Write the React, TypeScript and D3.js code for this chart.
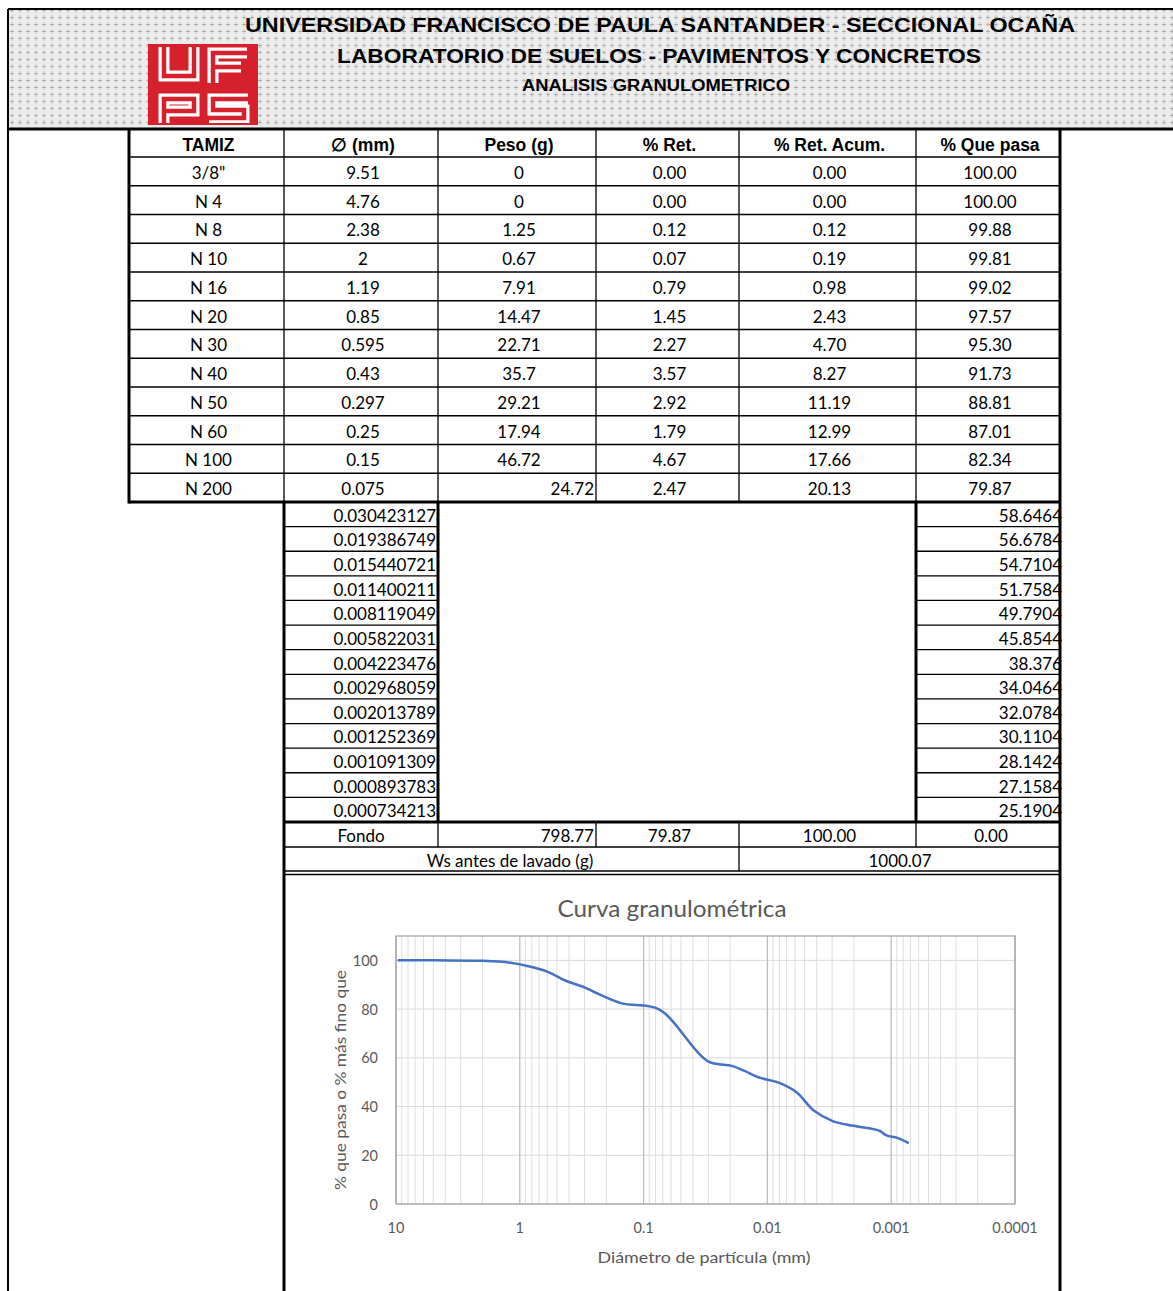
import React from "react";
import * as d3 from "d3";

const tamiz = ['3/8"', "N 4", "N 8", "N 10", "N 16", "N 20", "N 30", "N 40", "N 50", "N 60", "N 100", "N 200"];
const diametro = [9.51, 4.76, 2.38, 2, 1.19, 0.85, 0.595, 0.43, 0.297, 0.25, 0.15, 0.075];
const diametroTxt = ["9.51", "4.76", "2.38", "2", "1.19", "0.85", "0.595", "0.43", "0.297", "0.25", "0.15", "0.075"];
const peso = ["0", "0", "1.25", "0.67", "7.91", "14.47", "22.71", "35.7", "29.21", "17.94", "46.72", "24.72"];
const retenido = ["0.00", "0.00", "0.12", "0.07", "0.79", "1.45", "2.27", "3.57", "2.92", "1.79", "4.67", "2.47"];
const retAcum = ["0.00", "0.00", "0.12", "0.19", "0.98", "2.43", "4.70", "8.27", "11.19", "12.99", "17.66", "20.13"];
const quePasa = [100.0, 100.0, 99.88, 99.81, 99.02, 97.57, 95.3, 91.73, 88.81, 87.01, 82.34, 79.87];
const quePasaTxt = ["100.00", "100.00", "99.88", "99.81", "99.02", "97.57", "95.30", "91.73", "88.81", "87.01", "82.34", "79.87"];

const hidroDiamTxt = ["0.030423127", "0.019386749", "0.015440721", "0.011400211", "0.008119049", "0.005822031", "0.004223476", "0.002968059", "0.002013789", "0.001252369", "0.001091309", "0.000893783", "0.000734213"];
const hidroPasaTxt = ["58.6464", "56.6784", "54.7104", "51.7584", "49.7904", "45.8544", "38.376", "34.0464", "32.0784", "30.1104", "28.1424", "27.1584", "25.1904"];

const headers = ["TAMIZ", "\u2205  (mm)", "Peso (g)", "% Ret.", "% Ret. Acum.", "% Que pasa"];
const yTicks = [0, 20, 40, 60, 80, 100];
const xTicks = [10, 1, 0.1, 0.01, 0.001, 0.0001];
const xTickLabels = ["10", "1", "0.1", "0.01", "0.001", "0.0001"];

const colX = [129, 284, 438, 596, 739, 916, 1060];
const cellFont = "Lato, 'Open Sans', sans-serif";
const arial = "'Liberation Sans', Arial, sans-serif";

export default function App() {
  const W = 1173, H = 1291;
  const headTop = 130, headBot = 157, rowH = 28.75;
  const mainBot = headBot + rowH * 12; // 502
  const hRowH = (822 - mainBot) / 13;
  const fondoTop = 822, fondoBot = 847, wsBot = 871;

  const cx = (i: number) => (colX[i] + colX[i + 1]) / 2;

  const x = d3.scaleLog().domain([10, 0.0001]).range([396, 1015]);
  const y = d3.scaleLinear().domain([0, 110]).range([1204, 936]);
  const minor: number[] = [];
  for (let k = -4; k <= 0; k++) for (let m = 2; m <= 9; m++) minor.push(m * Math.pow(10, k));
  const pts = [
    ...diametro.map((d, i) => ({ d, p: quePasa[i] })),
    ...hidroDiamTxt.map((d, i) => ({ d: +d, p: +hidroPasaTxt[i] })),
  ];
  const line = d3
    .line<{ d: number; p: number }>()
    .x((d) => x(d.d))
    .y((d) => y(d.p))
    .curve(d3.curveCatmullRom.alpha(0.5));

  const rows = tamiz.map((t, i) => [t, diametroTxt[i], peso[i], retenido[i], retAcum[i], quePasaTxt[i]]);

  return (
    <svg width={W} height={H} style={{ position: "absolute", left: 0, top: 0, display: "block", background: "#fff" }}>
      <defs>
        <pattern id="hdr" width="8" height="7" patternUnits="userSpaceOnUse">
          <rect width="8" height="7" fill="#ececec" />
          <path d="M4,1.5 v4 M2,3.5 h4" stroke="#b0b0b0" strokeWidth="1" />
        </pattern>
      </defs>
      <rect x={8} y={9} width={W - 8} height={119} fill="url(#hdr)" />
      <line x1={8} y1={9} x2={W} y2={9} stroke="#000" strokeWidth={2} />
      <line x1={8} y1={9} x2={8} y2={H} stroke="#000" strokeWidth={2} />
      <line x1={8} y1={129} x2={W} y2={129} stroke="#000" strokeWidth={3} />
      {/* logo */}
      <rect x={149} y={45} width={108} height={79} fill="#d6202c" />
      <g fill="none" strokeLinejoin="miter" strokeLinecap="butt">
        {[
          "M164,47 V76 H194 V47",
          "M247,53 H213 V83 M213,67 H241",
          "M164,124 V99 H194 V111 H164",
          "M248,99 H213 V110 H244 V118 H209",
        ].map((d, i) => (
          <g key={i}>
            <path d={d} stroke="#fff" strokeWidth={11} />
            <path d={d} stroke="#d6202c" strokeWidth={4.5} />
          </g>
        ))}
      </g>
      <rect x={149} y={45} width={108} height={79} fill="none" stroke="#d6202c" strokeWidth={2} />
      <text x={660} y={32} textAnchor="middle" fontFamily={arial} fontWeight="bold" fontSize={21} textLength={830} lengthAdjust="spacingAndGlyphs">
        UNIVERSIDAD FRANCISCO DE PAULA SANTANDER - SECCIONAL OCAÑA
      </text>
      <text x={659} y={63} textAnchor="middle" fontFamily={arial} fontWeight="bold" fontSize={20} textLength={644} lengthAdjust="spacingAndGlyphs">
        LABORATORIO DE SUELOS - PAVIMENTOS Y CONCRETOS
      </text>
      <text x={656} y={91} textAnchor="middle" fontFamily={arial} fontWeight="bold" fontSize={16} textLength={268} lengthAdjust="spacingAndGlyphs">
        ANALISIS GRANULOMETRICO
      </text>

      {headers.map((h, i) => (
        <text key={h} x={cx(i) + 2} y={(headTop + headBot) / 2 + 1} textAnchor="middle" dominantBaseline="central" fontFamily={arial} fontWeight="bold" fontSize={17.5}>
          {h}
        </text>
      ))}
      {rows.map((r, ri) =>
        r.map((v, ci) => {
          const yc = headBot + rowH * ri + rowH / 2 + 1;
          const rightAlign = ri === 11 && ci === 2;
          return (
            <text key={ri + "-" + ci} x={rightAlign ? colX[ci + 1] - 2 : cx(ci) + 2} y={yc} textAnchor={rightAlign ? "end" : "middle"} dominantBaseline="central" fontFamily={cellFont} fontSize={17}>
              {v}
            </text>
          );
        })
      )}
      {d3.range(13).map((i) => (
        <line key={"h" + i} x1={colX[0]} x2={colX[6]} y1={headBot + rowH * i} y2={headBot + rowH * i} stroke="#000" strokeWidth={1.3} />
      ))}
      {colX.slice(1, 6).map((cxv) => (
        <line key={"v" + cxv} x1={cxv} x2={cxv} y1={headTop} y2={mainBot} stroke="#000" strokeWidth={1.3} />
      ))}
      <line x1={colX[0]} x2={colX[0]} y1={headTop} y2={mainBot + 1.5} stroke="#000" strokeWidth={3} />
      <line x1={colX[6]} x2={colX[6]} y1={headTop} y2={H} stroke="#000" strokeWidth={3} />
      <line x1={colX[0]} x2={colX[6]} y1={mainBot} y2={mainBot} stroke="#000" strokeWidth={3} />

      {hidroDiamTxt.map((v, i) => {
        const yc = mainBot + hRowH * i + hRowH / 2 + 1;
        return (
          <g key={"hy" + i}>
            <text x={436} y={yc} textAnchor="end" dominantBaseline="central" fontFamily={cellFont} fontSize={17}>
              {v}
            </text>
            <text x={1062} y={yc} textAnchor="end" dominantBaseline="central" fontFamily={cellFont} fontSize={17}>
              {hidroPasaTxt[i]}
            </text>
          </g>
        );
      })}
      {d3.range(1, 13).map((i) => (
        <g key={"hl" + i}>
          <line x1={284} x2={438} y1={mainBot + hRowH * i} y2={mainBot + hRowH * i} stroke="#000" strokeWidth={1.3} />
          <line x1={916} x2={1060} y1={mainBot + hRowH * i} y2={mainBot + hRowH * i} stroke="#000" strokeWidth={1.3} />
        </g>
      ))}
      <line x1={284} x2={284} y1={mainBot} y2={H} stroke="#000" strokeWidth={3} />
      <line x1={438} x2={438} y1={mainBot} y2={fondoTop} stroke="#000" strokeWidth={3} />
      <line x1={916} x2={916} y1={mainBot} y2={fondoTop} stroke="#000" strokeWidth={3} />
      <line x1={284} x2={1060} y1={fondoTop} y2={fondoTop} stroke="#000" strokeWidth={3} />

      <text x={cx(1)} y={(fondoTop + fondoBot) / 2 + 1} textAnchor="middle" dominantBaseline="central" fontFamily={cellFont} fontSize={17}>Fondo</text>
      <text x={594} y={(fondoTop + fondoBot) / 2 + 1} textAnchor="end" dominantBaseline="central" fontFamily={cellFont} fontSize={17}>798.77</text>
      <text x={cx(3) + 2} y={(fondoTop + fondoBot) / 2 + 1} textAnchor="middle" dominantBaseline="central" fontFamily={cellFont} fontSize={17}>79.87</text>
      <text x={cx(4) + 2} y={(fondoTop + fondoBot) / 2 + 1} textAnchor="middle" dominantBaseline="central" fontFamily={cellFont} fontSize={17}>100.00</text>
      <text x={cx(5) + 3} y={(fondoTop + fondoBot) / 2 + 1} textAnchor="middle" dominantBaseline="central" fontFamily={cellFont} fontSize={17}>0.00</text>
      {[438, 596, 739, 916].map((v) => (
        <line key={"f" + v} x1={v} x2={v} y1={fondoTop} y2={fondoBot} stroke="#000" strokeWidth={1.3} />
      ))}
      <line x1={284} x2={1060} y1={fondoBot} y2={fondoBot} stroke="#000" strokeWidth={1.3} />
      <text x={510} y={(fondoBot + wsBot) / 2 + 1} textAnchor="middle" dominantBaseline="central" fontFamily={cellFont} fontSize={17}>Ws antes de lavado (g)</text>
      <text x={900} y={(fondoBot + wsBot) / 2 + 1} textAnchor="middle" dominantBaseline="central" fontFamily={cellFont} fontSize={17}>1000.07</text>
      <line x1={739} x2={739} y1={fondoBot} y2={wsBot} stroke="#000" strokeWidth={1.3} />
      <line x1={284} x2={1060} y1={wsBot} y2={wsBot} stroke="#000" strokeWidth={1.3} />
      <line x1={284} x2={1060} y1={wsBot + 3.5} y2={wsBot + 3.5} stroke="#000" strokeWidth={1.3} />

      {/* chart */}
      <text x={672} y={907} textAnchor="middle" dominantBaseline="central" fontFamily={cellFont} fontSize={24} fill="#595959" textLength={229} lengthAdjust="spacingAndGlyphs">
        Curva granulométrica
      </text>
      <g>
        {minor.map((m) => (
          <line key={"m" + m} x1={x(m)} x2={x(m)} y1={y(110)} y2={y(0)} stroke="#dedede" strokeWidth={1} />
        ))}
        {yTicks.map((t) => (
          <line key={"yg" + t} x1={x(10)} x2={x(0.0001)} y1={y(t)} y2={y(t)} stroke="#d9d9d9" strokeWidth={1} />
        ))}
        {xTicks.map((t) => (
          <line key={"xg" + t} x1={x(t)} x2={x(t)} y1={y(110)} y2={y(0)} stroke="#bdbdbd" strokeWidth={1.3} />
        ))}
        <rect x={x(10)} y={y(110)} width={x(0.0001) - x(10)} height={y(0) - y(110)} fill="none" stroke="#a6a6a6" strokeWidth={1.3} />
        {yTicks.map((t) => (
          <text key={"yl" + t} x={378} y={y(t)} textAnchor="end" dominantBaseline="central" fontFamily={cellFont} fontSize={14.5} fill="#595959">
            {t}
          </text>
        ))}
        {xTicks.map((t, i) => (
          <text key={"xl" + t} x={x(t)} y={1227} textAnchor="middle" dominantBaseline="central" fontFamily={cellFont} fontSize={14.5} fill="#595959">
            {xTickLabels[i]}
          </text>
        ))}
        <path d={line(pts) || ""} fill="none" stroke="#4472C4" strokeWidth={2.5} strokeLinecap="round" />
        <text x={704} y={1256} textAnchor="middle" dominantBaseline="central" fontFamily={cellFont} fontSize={16} fill="#595959" textLength={213} lengthAdjust="spacingAndGlyphs">
          Diámetro de partícula (mm)
        </text>
        <text transform="translate(339,1080) rotate(-90)" textAnchor="middle" dominantBaseline="central" fontFamily={cellFont} fontSize={16} fill="#595959" textLength={220} lengthAdjust="spacingAndGlyphs">
          % que pasa o % más fino que
        </text>
      </g>
    </svg>
  );
}
